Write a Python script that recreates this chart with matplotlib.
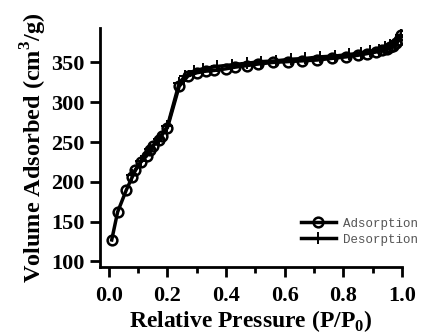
import matplotlib
matplotlib.use("Agg")
import matplotlib.pyplot as plt
from matplotlib.ticker import MultipleLocator

# adsorption branch (open circles)
ads_p = [0.01, 0.03, 0.06, 0.08, 0.09, 0.11, 0.13, 0.14, 0.15, 0.17, 0.18, 0.20,
         0.24, 0.27, 0.30, 0.33, 0.36, 0.40, 0.43, 0.47, 0.51, 0.56, 0.61, 0.66,
         0.71, 0.76, 0.81, 0.85, 0.88, 0.91, 0.93, 0.95, 0.96, 0.97, 0.98, 0.99, 0.995]
ads_v = [127, 162, 190, 206, 215, 225, 233, 240, 245, 252, 258, 268,
         320, 333, 337, 339, 340, 342, 344, 346, 348, 350, 351, 352,
         353, 355, 357, 359, 361, 363, 365, 367, 369, 371, 374, 378, 384]

# desorption branch (plus signs)
des_p = [0.995, 0.98, 0.96, 0.94, 0.92, 0.89, 0.86, 0.82, 0.77, 0.72, 0.67, 0.62,
         0.57, 0.52, 0.47, 0.42, 0.37, 0.32, 0.29, 0.26, 0.24, 0.20, 0.17, 0.14,
         0.11, 0.08]
des_v = [384, 377, 372, 369, 366, 364, 362, 360, 358, 357, 355, 354,
         352, 351, 349, 347, 345, 342, 339, 333, 324, 270, 254, 241,
         226, 208]

xtick_vals = [0.0, 0.2, 0.4, 0.6, 0.8, 1.0]
xtick_labels = ['0.0', '0.2', '0.4', '0.6', '0.8', '1.0']

plt.rcParams['font.family'] = 'Liberation Serif'
plt.rcParams['mathtext.fontset'] = 'custom'
plt.rcParams['mathtext.rm'] = 'Liberation Serif'
plt.rcParams['mathtext.bf'] = 'Liberation Serif:bold'

fig = plt.figure(figsize=(4.31, 3.34), dpi=100)
ax = fig.add_axes([0.232, 0.2006, 0.701, 0.715])

ax.plot(ads_p, ads_v, color='black', lw=2.5, marker='o', ms=7,
        mfc='none', mec='black', mew=1.8, label='Adsorption')
ax.plot(des_p, des_v, color='black', lw=2.5, marker='+', ms=9,
        mew=1.4, label='Desorption')

ax.set_xlim(-0.03, 1.0)
ax.set_ylim(93, 393)
ax.xaxis.set_minor_locator(MultipleLocator(0.1))
ax.yaxis.set_major_locator(MultipleLocator(50))
ax.set_xticks(xtick_vals)
ax.set_xticklabels(xtick_labels)

for s in ['top', 'right']:
    ax.spines[s].set_visible(False)
for s in ['left', 'bottom']:
    ax.spines[s].set_linewidth(2)

ax.tick_params(which='major', direction='out', length=7, width=2,
               labelsize=16, pad=4)
ax.tick_params(axis='x', which='major', pad=7)
ax.tick_params(which='minor', direction='out', length=4, width=2)
for lab in ax.get_xticklabels() + ax.get_yticklabels():
    lab.set_fontweight('bold')

ax.set_xlabel('Relative Pressure (P/P$_\\mathbf{0}$)', fontsize=17,
              fontweight='bold', labelpad=1)
ax.set_ylabel('Volume Adsorbed (cm$^\\mathbf{3}$/g)', fontsize=17.5,
              fontweight='bold', labelpad=2)

ax.legend(loc='lower left', bbox_to_anchor=(0.665, 0.09), frameon=False,
          borderpad=0, borderaxespad=0,
          prop={'family': 'Liberation Mono', 'size': 9}, handlelength=2.8,
          handletextpad=0.6, labelspacing=0.3, labelcolor='#555555')

fig.savefig('out.png', dpi=100)
